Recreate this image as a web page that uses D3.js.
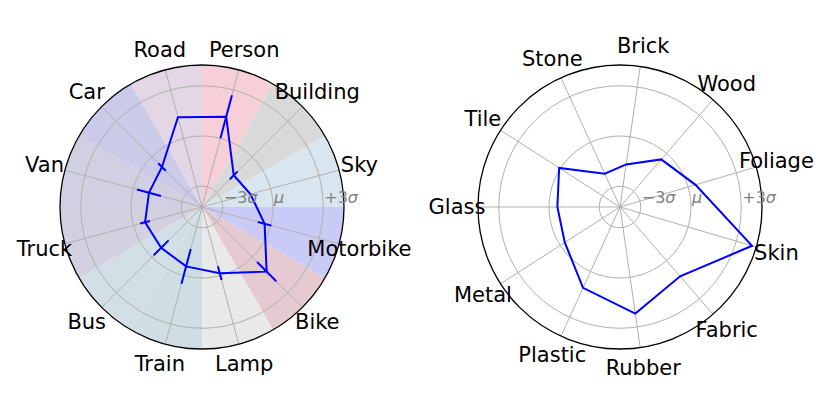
<!DOCTYPE html>
<html>

<head>
    <meta charset="utf-8">
    <style>
        body {
            margin: 0;
            background: #fff;
        }

        svg {
            font-family: 'DejaVu Sans', sans-serif;
        }

        .grid {
            fill: none;
            stroke: #b0b0b0;
            stroke-width: 1;
        }

        .rim {
            fill: none;
            stroke: #000;
            stroke-width: 1.3;
        }

        .tick-label {
            font-size: 16px;
            fill: #808080;
        }

        .cat-label {
            font-size: 21px;
            fill: #000;
        }

        .series {
            fill: none;
            stroke: #0000ff;
            stroke-width: 2;
        }

        .err {
            stroke: #0000ff;
            stroke-width: 2;
        }
    </style>
</head>

<body>
    <svg width="830" height="415"></svg>
</body>

<script src="https://d3js.org/d3.v7.min.js"></script>

<script>
    // scene classes (left) - clockwise from top
    let leftCategories = ["Person", "Building", "Sky", "Motorbike", "Bike", "Lamp",
        "Train", "Bus", "Truck", "Van", "Car", "Road"]
    let leftValues = [1.34, -1.56, -1.25, -0.37, 1.22, -0.15, -0.57, -0.79, -0.72, -0.96, -0.86, 1.31]
    let leftErrors = [1.33, 0.33, 0, 0.42, 0.81, 0.42, 1.07, 0.63, 0.30, 0.74, 0.32, 0]
    let leftColors = [
        "#f6cfd8", // Person
        "#d9d9d9", // Building
        "#d9e6ef", // Sky
        "#cacaf6", // Motorbike
        "#e5cbd1", // Bike
        "#e9e9e9", // Lamp
        "#cfdee2", // Train
        "#d2dfe6", // Bus
        "#d3d0df", // Truck
        "#d1d0e2", // Van
        "#cbcae9", // Car
        "#e3d6e5"  // Road
    ]

    // materials (right)
    let rightCategories = ["Brick", "Wood", "Foliage", "Skin", "Fabric", "Rubber",
        "Plastic", "Metal", "Glass", "Tile", "Stone"]
    let rightValues = [-1.67, -0.48, 0.46, 3.98, 1.24, 2.19, 1.07, -0.32, -0.50, 0.08, -2.05]

    let tickValues = [-3, 0, 3]
    let tickLabels = [["−3", "σ"], ["", "μ"], ["+3", "σ"]]

    let radius = 142
    let labelRadius = 163

    let svg = d3.select("svg")

    let r = d3.scaleLinear()
        .domain([-4.24, 4.24])
        .range([0, radius])

    function drawPolar(cx, cy, categories, values, errors, colors, offset) {
        let n = categories.length
        let step = 2 * Math.PI / n
        let angle = d3.scaleLinear()
            .domain([0, n])
            .range([offset * step, offset * step + 2 * Math.PI])

        let g = svg.append("g")
            .attr("transform", `translate(${cx},${cy})`)

        // coloured wedges
        if (colors) {
            let arc = d3.arc()
                .innerRadius(0)
                .outerRadius(radius)
                .startAngle((d, i) => angle(i) - step / 2)
                .endAngle((d, i) => angle(i) + step / 2)

            g.append("g")
                .selectAll("path")
                .data(categories)
                .join("path")
                .attr("d", arc)
                .attr("fill", (d, i) => colors[i])
        }

        // circles
        g.append("g")
            .selectAll("circle")
            .data(tickValues)
            .join("circle")
            .attr("class", "grid")
            .attr("r", d => r(d))

        // spokes
        g.append("g")
            .selectAll("line")
            .data(categories)
            .join("line")
            .attr("class", "grid")
            .attr("x1", 0)
            .attr("y1", 0)
            .attr("x2", (d, i) => radius * Math.sin(angle(i)))
            .attr("y2", (d, i) => -radius * Math.cos(angle(i)))

        g.append("circle")
            .attr("class", "rim")
            .attr("r", radius)

        // series
        let line = d3.lineRadial()
            .angle((d, i) => angle(i))
            .radius(d => r(d))
            .curve(d3.curveLinearClosed)

        g.append("path")
            .attr("class", "series")
            .attr("d", line(values))

        // radial error bars
        if (errors) {
            g.append("g")
                .selectAll("line")
                .data(values)
                .join("line")
                .attr("class", "err")
                .attr("x1", (d, i) => r(d - errors[i]) * Math.sin(angle(i)))
                .attr("y1", (d, i) => -r(d - errors[i]) * Math.cos(angle(i)))
                .attr("x2", (d, i) => r(d + errors[i]) * Math.sin(angle(i)))
                .attr("y2", (d, i) => -r(d + errors[i]) * Math.cos(angle(i)))
        }

        // radial tick labels
        let tl = g.append("g")
            .selectAll("text")
            .data(tickValues)
            .join("text")
            .attr("class", "tick-label")
            .attr("x", d => r(d) + 1)
            .attr("y", -4)

        tl.append("tspan").text((d, i) => tickLabels[i][0])
        tl.append("tspan").attr("font-style", "italic").text((d, i) => tickLabels[i][1])

        // category labels
        g.append("g")
            .selectAll("text")
            .data(categories)
            .join("text")
            .attr("class", "cat-label")
            .attr("x", (d, i) => labelRadius * Math.sin(angle(i)))
            .attr("y", (d, i) => -labelRadius * Math.cos(angle(i)))
            .attr("text-anchor", "middle")
            .attr("dominant-baseline", "central")
            .text(d => d)
    }

    drawPolar(202, 207, leftCategories, leftValues, leftErrors, leftColors, 0.5)
    drawPolar(620, 207, rightCategories, rightValues, null, null, 0.25)
</script>

</html>
